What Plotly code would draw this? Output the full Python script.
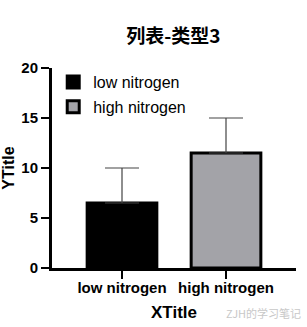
import plotly.graph_objects as go

categories = ["low nitrogen", "high nitrogen"]
means = [6.5, 11.5]
sd_plus = [3.5, 3.5]
fill_colors = ["#000000", "#A3A3A8"]
y_ticks = [0, 5, 10, 15, 20]

fig = go.Figure()
for cat, m, e, c in zip(categories, means, sd_plus, fill_colors):
    fig.add_trace(go.Bar(
        x=[cat], y=[m], name=cat, width=0.67, legendgroup=cat,
        marker=dict(color=c, line=dict(color="#000000", width=3)),
        error_y=dict(type="data", array=[e], arrayminus=[0], symmetric=False,
                     color="#444444", thickness=1.2, width=17),
    ))

fig.update_layout(
    width=307, height=327,
    margin=dict(l=52, r=11, t=68, b=59),
    plot_bgcolor="white", paper_bgcolor="white",
    barmode="overlay",
    title=dict(text="<b>列表-类型3</b>", x=0.565, xanchor="center", y=0.89, yanchor="middle",
               font=dict(family="Noto Sans CJK SC, Liberation Sans, Arial", size=19, color="#000")),
    font=dict(family="Liberation Sans, Arial", color="#000"),
    legend=dict(x=0.005, y=1.015, xanchor="left", yanchor="top", bgcolor="rgba(0,0,0,0)",
                font=dict(size=16, color="#000"), tracegroupgap=1, itemwidth=30),
    showlegend=True,
)
fig.update_xaxes(
    range=[-0.673, 1.673], showline=True, linecolor="#000", linewidth=3,
    ticks="outside", ticklen=8, tickwidth=2, tickcolor="#000", ticklabelstandoff=-4,
    tickfont=dict(size=15, family="Liberation Sans, Arial", color="#000", weight="bold"),
    showgrid=False, fixedrange=True, automargin=False,
)
fig.update_yaxes(
    range=[0, 20], tickvals=y_ticks, showline=True, linecolor="#000", linewidth=3,
    ticks="outside", ticklen=8, tickwidth=2, tickcolor="#000",
    tickfont=dict(size=15, family="Liberation Sans, Arial", color="#000", weight="bold"),
    title=dict(text="<b>YTitle</b>", font=dict(size=16), standoff=6),
    showgrid=False, zeroline=False, automargin=False,
)
fig.add_annotation(text="<b>XTitle</b>", xref="paper", yref="paper", x=0.5, y=-0.22,
                   xanchor="center", yanchor="middle", showarrow=False,
                   font=dict(size=17, color="#000", family="Liberation Sans, Arial"))
fig.add_annotation(text="ZJH的学习笔记", xref="paper", yref="paper", x=1.03, y=-0.225,
                   xanchor="right", yanchor="middle", showarrow=False,
                   font=dict(size=11, color="#C8C8C8", family="Noto Sans CJK SC"))
fig.write_html("out.html")
